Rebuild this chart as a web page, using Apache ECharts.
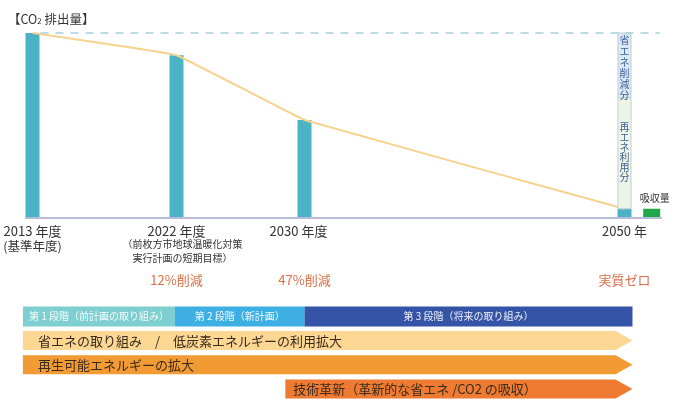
<!DOCTYPE html>
<html>
<head>
<meta charset="utf-8">
<script src="https://cdn.jsdelivr.net/npm/echarts@6/dist/echarts.min.js"></script>
<style>
html,body{margin:0;padding:0;background:#fff;}
#chart{width:681px;height:401px;}
</style>
</head>
<body>
<div id="chart"></div>
<script>
// ---- data ----
const years = [2013, 2022, 2030, 2050];
const emissions = [100, 88, 53, 5];
const yearLabels = ['2013 年度', '2022 年度', '2030 年度', '2050 年'];
const yearNotes = ['(基準年度)', '（前枚方市地球温暖化対策\n実行計画の短期目標）', '', ''];
const reductionLabels = ['', '12%削減', '47%削減', '実質ゼロ'];

const zeroYear = 2050;
const segmentNames = ['再エネ利用分', '省エネ削減分'];
const segmentLow = [5, 65];
const segmentHigh = [65, 100];

const absorptionYear = 2051.7;
const absorptionValue = 5;
const absorptionLabel = '吸収量';

const baseRange = [2012.53, 2052.34];
const dashRange = [2013.5, 2052.2];

const phaseNames = ['第 1 段階（前計画の取り組み）', '第 2 段階（新計画）', '第 3 段階（将来の取り組み）'];
const phaseStart = [2012.4, 2021.9, 2030.0];
const phaseEnd = [2021.9, 2030.0, 2050.5];

const arrowTexts = ['省エネの取り組み　/　低炭素エネルギーの利用拡大', '再生可能エネルギーの拡大', '技術革新（革新的な省エネ /CO2 の吸収）'];
const arrowStart = [2012.4, 2012.4, 2028.8];
const arrowEnd = [2050.5, 2050.5, 2050.5];

// ---- styles ----
const FONT = '"Noto Sans CJK JP", "Noto Sans", sans-serif';
const teal = '#4bb3c4';
const phaseColors = ['#7fcfd1', '#3eafe3', '#3654a7'];
const arrowColors = ['#fbd793', '#f29a34', '#ee7b31'];
const xMin = 2013 - 32.5 / 16;
const xMax = xMin + 681 / 16;

const chart = echarts.init(document.getElementById('chart'), null, {renderer: 'canvas'});

const option = {
  animation: false,
  backgroundColor: '#ffffff',
  title: {
    text: '{a|【CO}{b|2}{a| 排出量】}',
    left: 3, top: 8,
    textStyle: {
      fontWeight: 'normal',
      rich: {
        a: {fontSize: 12.5, fontFamily: FONT, color: '#333', fontWeight: 'normal'},
        b: {fontSize: 8, fontFamily: FONT, color: '#333', fontWeight: 'normal', padding: [3, 0, 0, 0]}
      }
    }
  },
  grid: [
    {left: 0, right: 0, top: 33, height: 185},
    {left: 0, right: 0, top: 304.3, height: 101.2}
  ],
  xAxis: [
    {type: 'value', gridIndex: 0, min: xMin, max: xMax, show: false},
    {type: 'value', gridIndex: 1, min: xMin, max: xMax, show: false}
  ],
  yAxis: [
    {type: 'value', gridIndex: 0, min: 0, max: 100, show: false},
    {type: 'category', gridIndex: 1, data: [0, 1, 2, 3], inverse: true, show: false}
  ],
  series: [
    {
      type: 'bar', xAxisIndex: 0, yAxisIndex: 0, barWidth: 14,
      itemStyle: {color: teal},
      data: years.map((y, i) => [y, emissions[i]]),
      z: 2,
      markLine: {
        silent: true, symbol: ['none', 'none'], label: {show: false},
        data: [
          [{coord: [baseRange[0], 0], lineStyle: {color: '#b7bdd8', width: 2, type: 'solid'}},
           {coord: [baseRange[1], 0]}],
          [{coord: [dashRange[0], 100], lineStyle: {color: '#a9d0da', width: 1.5, type: [8, 7]}},
           {coord: [dashRange[1], 100]}]
        ]
      }
    },
    {
      type: 'line', xAxisIndex: 0, yAxisIndex: 0, symbol: 'none', smooth: 0.05,
      lineStyle: {color: '#f5d28d', width: 2},
      data: years.map((y, i) => [y, emissions[i]]),
      z: 3
    },
    {
      // 2050 breakdown boxes
      type: 'custom', xAxisIndex: 0, yAxisIndex: 0, z: 4,
      data: segmentLow.map((lo, i) => [zeroYear, lo, segmentHigh[i]]),
      encode: {x: 0, y: [1, 2]},
      renderItem: function (params, api) {
        const i = params.dataIndex;
        const p0 = api.coord([api.value(0), api.value(1)]);
        const p1 = api.coord([api.value(0), api.value(2)]);
        const w = 13;
        const fills = ['#eef4e6', '#dbe9f6'];
        return {
          type: 'group',
          children: [
            {type: 'rect', shape: {x: p0[0] - w / 2, y: p1[1], width: w, height: p0[1] - p1[1]},
             style: {fill: fills[i], stroke: '#bfcdd3', lineWidth: 1}},
            {type: 'text', x: p0[0], y: (p0[1] + p1[1]) / 2 + (i === 0 ? -1 : 2),
             style: {text: segmentNames[i].split('').join('\n'), fill: '#3d5f95',
                     font: '10px ' + FONT, lineHeight: i === 0 ? 10 : 11, align: 'center', verticalAlign: 'middle'}}
          ]
        };
      }
    },
    {
      // absorption bar
      type: 'custom', xAxisIndex: 0, yAxisIndex: 0, z: 4,
      data: [[absorptionYear, absorptionValue]],
      renderItem: function (params, api) {
        const p0 = api.coord([api.value(0), 0]);
        const p1 = api.coord([api.value(0), api.value(1)]);
        const w = 17;
        return {
          type: 'group',
          children: [
            {type: 'rect', shape: {x: p0[0] - w / 2, y: p1[1], width: w, height: p0[1] - p1[1]},
             style: {fill: '#1fa749'}},
            {type: 'text', x: p0[0] + 3, y: p1[1] - 11,
             style: {text: absorptionLabel, fill: '#333', font: '10px ' + FONT, align: 'center', verticalAlign: 'middle'}}
          ]
        };
      }
    },
    {
      // year labels, notes and reduction labels
      type: 'custom', xAxisIndex: 0, yAxisIndex: 0, z: 5, clip: false,
      data: years.map(y => [y, 0]),
      renderItem: function (params, api) {
        const i = params.dataIndex;
        const p = api.coord([api.value(0), 0]);
        const children = [
          {type: 'text', x: p[0] + (i === 2 ? -6 : 0), y: p[1] + 13,
           style: {text: yearLabels[i], fill: '#333', font: '13px ' + FONT, align: 'center', verticalAlign: 'middle'}}
        ];
        if (yearNotes[i]) {
          const small = i === 1;
          children.push({type: 'text', x: p[0] + (small ? 6 : 0), y: p[1] + (small ? 19 : 21),
            style: {text: yearNotes[i], fill: '#333', font: (small ? '10px ' : '12.5px ') + FONT,
                    lineHeight: 14, align: 'center', verticalAlign: 'top'}});
        }
        if (reductionLabels[i]) {
          children.push({type: 'text', x: p[0], y: p[1] + 62,
            style: {text: reductionLabels[i], fill: '#d9704b', font: '13px ' + FONT, align: 'center', verticalAlign: 'middle'}});
        }
        return {type: 'group', children: children};
      }
    },
    {
      // phases
      type: 'custom', xAxisIndex: 1, yAxisIndex: 1, z: 2, clip: false,
      data: phaseStart.map((s, i) => [s, 0, phaseEnd[i]]),
      encode: {x: [0, 2], y: 1},
      renderItem: function (params, api) {
        const i = params.dataIndex;
        const a = api.coord([api.value(0), api.value(1)]);
        const b = api.coord([api.value(2), api.value(1)]);
        const h = 20;
        return {
          type: 'group',
          children: [
            {type: 'rect', shape: {x: a[0], y: a[1] - h / 2, width: b[0] - a[0], height: h},
             style: {fill: phaseColors[i]}},
            {type: 'text', x: (a[0] + b[0]) / 2, y: a[1],
             style: {text: phaseNames[i], fill: 'rgba(255,255,255,0.92)', font: '10px ' + FONT,
                     align: 'center', verticalAlign: 'middle'}}
          ]
        };
      }
    },
    {
      // arrows
      type: 'custom', xAxisIndex: 1, yAxisIndex: 1, z: 2, clip: false,
      data: arrowStart.map((s, i) => [s, i + 1, arrowEnd[i]]),
      encode: {x: [0, 2], y: 1},
      renderItem: function (params, api) {
        const i = params.dataIndex;
        const a = api.coord([api.value(0), api.value(1)]);
        const b = api.coord([api.value(2), api.value(1)]);
        const h = 19, head = 17;
        const top = a[1] - h / 2, bot = a[1] + h / 2;
        return {
          type: 'group',
          children: [
            {type: 'polygon', shape: {points: [[a[0], top], [b[0] - head, top], [b[0], a[1]], [b[0] - head, bot], [a[0], bot]]},
             style: {fill: arrowColors[i]}},
            {type: 'text', x: a[0] + (i === 2 ? 8 : 15), y: a[1],
             style: {text: arrowTexts[i], fill: '#3a2b1c', font: '13px ' + FONT, align: 'left', verticalAlign: 'middle'}}
          ]
        };
      }
    }
  ]
};
chart.setOption(option);
</script>
</body>
</html>
